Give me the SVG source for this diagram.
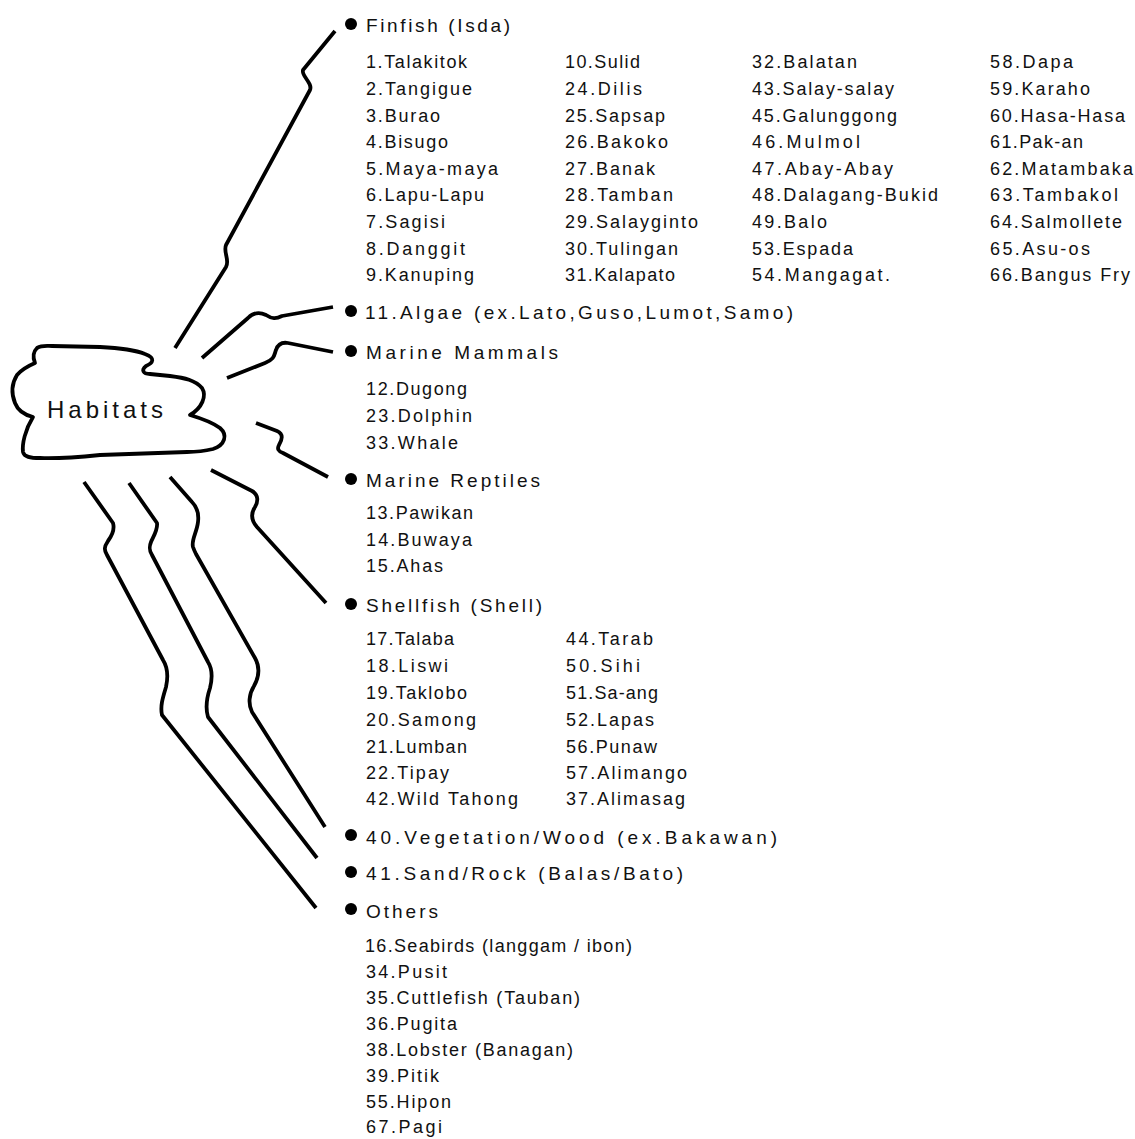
<svg xmlns="http://www.w3.org/2000/svg" width="1135" height="1139" viewBox="0 0 1135 1139">
<style>
.ln{fill:none;stroke:#000;stroke-width:3.8;stroke-linejoin:round;stroke-linecap:butt}
.h{font-family:"Liberation Sans",Arial,sans-serif;font-size:19px;fill:#111}
.i{font-family:"Liberation Sans",Arial,sans-serif;font-size:18px;fill:#111}
.c{font-family:"Liberation Sans",Arial,sans-serif;font-size:24px;fill:#111}
.b{fill:#000}
</style>
<rect width="1135" height="1139" fill="#fff"/>
<g id="habitats">
<path class="ln" d="M 37,348 C 42,345 47,346 52,346 L 100,347 C 120,348 135,350 145,354 C 156,358 153,363 146,366 C 141,370 143,374 150,374 L 170,376 C 185,378 195,380 202,388 C 207,396 202,408 190,415 C 200,418 212,422 220,428 C 228,435 225,445 213,449 C 205,451 195,452 187,452 L 100,455 C 80,457 60,459 40,458 C 30,458 24,457 23,452 C 22,444 25,430 33,417 C 25,415 18,411 15,403 C 11,393 12,383 17,375 C 22,369 28,366 35,363 C 33,358 33,352 37,348 Z"/>
<text class="c" x="47" y="418" textLength="116" lengthAdjust="spacing">Habitats</text>
</g>
<g id="connectors">
<path class="ln" d="M 175,348 L 226,267 C 230,260 223,252 226,245 L 310,90 C 313,83 301,76 303,70 L 335,31"/>
<path class="ln" d="M 202,358 L 248,318 C 254,312 260,312 266,315 C 272,319 276,319 282,316 L 333,307"/>
<path class="ln" d="M 227,378 L 265,363 C 275,359 274,355 276,350 C 278,344 282,342 288,343 L 333,352"/>
<path class="ln" d="M 256,423 L 277,431 C 284,434 282,440 279,445 C 277,449 278,451 283,453 L 328,477"/>
<path class="ln" d="M 211,470 L 252,491 C 259,495 258,502 255,507 C 251,513 251,520 257,527 L 326,603"/>
<path class="ln" d="M 170,477 L 192,502 C 198,508 199,514 198,522 C 197,532 191,540 193,547 C 194,550 195,552 196,554 L 255,658 C 260,667 259,677 254,686 C 249,694 248,704 252,712 L 325,827"/>
<path class="ln" d="M 129,483 L 157,523 C 158,530 153,537 151,542 C 149,547 149,550 152,555 L 208,662 C 213,670 212,680 210,688 C 207,697 205,707 208,717 L 317,858"/>
<path class="ln" d="M 84,482 L 113,523 C 115,530 111,537 108,541 C 104,547 104,550 107,555 L 163,660 C 168,668 168,678 166,687 C 163,697 160,706 162,715 L 316,908"/>
</g>
<g id="finfish">
<circle class="b" cx="351" cy="24" r="6"/>
<text class="h" x="366" y="32" textLength="144" lengthAdjust="spacing">Finfish (Isda)</text>
<text class="i" x="366" y="68" textLength="101" lengthAdjust="spacing">1.Talakitok</text>
<text class="i" x="366" y="95" textLength="106" lengthAdjust="spacing">2.Tangigue</text>
<text class="i" x="366" y="122" textLength="74" lengthAdjust="spacing">3.Burao</text>
<text class="i" x="366" y="148" textLength="82" lengthAdjust="spacing">4.Bisugo</text>
<text class="i" x="366" y="175" textLength="132" lengthAdjust="spacing">5.Maya-maya</text>
<text class="i" x="366" y="201" textLength="118" lengthAdjust="spacing">6.Lapu-Lapu</text>
<text class="i" x="366" y="228" textLength="79" lengthAdjust="spacing">7.Sagisi</text>
<text class="i" x="366" y="255" textLength="99" lengthAdjust="spacing">8.Danggit</text>
<text class="i" x="366" y="281" textLength="108" lengthAdjust="spacing">9.Kanuping</text>
<text class="i" x="565" y="68" textLength="75" lengthAdjust="spacing">10.Sulid</text>
<text class="i" x="565" y="95" textLength="77" lengthAdjust="spacing">24.Dilis</text>
<text class="i" x="565" y="122" textLength="100" lengthAdjust="spacing">25.Sapsap</text>
<text class="i" x="565" y="148" textLength="103" lengthAdjust="spacing">26.Bakoko</text>
<text class="i" x="565" y="175" textLength="90" lengthAdjust="spacing">27.Banak</text>
<text class="i" x="565" y="201" textLength="108" lengthAdjust="spacing">28.Tamban</text>
<text class="i" x="565" y="228" textLength="133" lengthAdjust="spacing">29.Salayginto</text>
<text class="i" x="565" y="255" textLength="113" lengthAdjust="spacing">30.Tulingan</text>
<text class="i" x="565" y="281" textLength="110" lengthAdjust="spacing">31.Kalapato</text>
<text class="i" x="752" y="68" textLength="105" lengthAdjust="spacing">32.Balatan</text>
<text class="i" x="752" y="95" textLength="142" lengthAdjust="spacing">43.Salay-salay</text>
<text class="i" x="752" y="122" textLength="145" lengthAdjust="spacing">45.Galunggong</text>
<text class="i" x="752" y="148" textLength="108" lengthAdjust="spacing">46.Mulmol</text>
<text class="i" x="752" y="175" textLength="141" lengthAdjust="spacing">47.Abay-Abay</text>
<text class="i" x="752" y="201" textLength="186" lengthAdjust="spacing">48.Dalagang-Bukid</text>
<text class="i" x="752" y="228" textLength="75" lengthAdjust="spacing">49.Balo</text>
<text class="i" x="752" y="255" textLength="101" lengthAdjust="spacing">53.Espada</text>
<text class="i" x="752" y="281" textLength="138" lengthAdjust="spacing">54.Mangagat.</text>
<text class="i" x="990" y="68" textLength="83" lengthAdjust="spacing">58.Dapa</text>
<text class="i" x="990" y="95" textLength="100" lengthAdjust="spacing">59.Karaho</text>
<text class="i" x="990" y="122" textLength="135" lengthAdjust="spacing">60.Hasa-Hasa</text>
<text class="i" x="990" y="148" textLength="93" lengthAdjust="spacing">61.Pak-an</text>
<text class="i" x="990" y="175" textLength="143" lengthAdjust="spacing">62.Matambaka</text>
<text class="i" x="990" y="201" textLength="128" lengthAdjust="spacing">63.Tambakol</text>
<text class="i" x="990" y="228" textLength="132" lengthAdjust="spacing">64.Salmollete</text>
<text class="i" x="990" y="255" textLength="100" lengthAdjust="spacing">65.Asu-os</text>
<text class="i" x="990" y="281" textLength="140" lengthAdjust="spacing">66.Bangus Fry</text>
</g>
<g id="algae">
<circle class="b" cx="351" cy="311" r="6"/>
<text class="h" x="365" y="319" textLength="428" lengthAdjust="spacing">11.Algae (ex.Lato,Guso,Lumot,Samo)</text>
</g>
<g id="marine-mammals">
<circle class="b" cx="351" cy="351" r="6"/>
<text class="h" x="366" y="359" textLength="192" lengthAdjust="spacing">Marine Mammals</text>
<text class="i" x="366" y="395" textLength="101" lengthAdjust="spacing">12.Dugong</text>
<text class="i" x="366" y="422" textLength="106" lengthAdjust="spacing">23.Dolphin</text>
<text class="i" x="366" y="449" textLength="92" lengthAdjust="spacing">33.Whale</text>
</g>
<g id="marine-reptiles">
<circle class="b" cx="351" cy="479" r="6"/>
<text class="h" x="366" y="487" textLength="174" lengthAdjust="spacing">Marine Reptiles</text>
<text class="i" x="366" y="519" textLength="107" lengthAdjust="spacing">13.Pawikan</text>
<text class="i" x="366" y="546" textLength="106" lengthAdjust="spacing">14.Buwaya</text>
<text class="i" x="366" y="572" textLength="77" lengthAdjust="spacing">15.Ahas</text>
</g>
<g id="shellfish">
<circle class="b" cx="351" cy="604" r="6"/>
<text class="h" x="366" y="612" textLength="176" lengthAdjust="spacing">Shellfish (Shell)</text>
<text class="i" x="366" y="645" textLength="88" lengthAdjust="spacing">17.Talaba</text>
<text class="i" x="366" y="672" textLength="82" lengthAdjust="spacing">18.Liswi</text>
<text class="i" x="366" y="699" textLength="101" lengthAdjust="spacing">19.Taklobo</text>
<text class="i" x="366" y="726" textLength="110" lengthAdjust="spacing">20.Samong</text>
<text class="i" x="366" y="753" textLength="101" lengthAdjust="spacing">21.Lumban</text>
<text class="i" x="366" y="779" textLength="83" lengthAdjust="spacing">22.Tipay</text>
<text class="i" x="366" y="805" textLength="152" lengthAdjust="spacing">42.Wild Tahong</text>
<text class="i" x="566" y="645" textLength="87" lengthAdjust="spacing">44.Tarab</text>
<text class="i" x="566" y="672" textLength="74" lengthAdjust="spacing">50.Sihi</text>
<text class="i" x="566" y="699" textLength="92" lengthAdjust="spacing">51.Sa-ang</text>
<text class="i" x="566" y="726" textLength="88" lengthAdjust="spacing">52.Lapas</text>
<text class="i" x="566" y="753" textLength="91" lengthAdjust="spacing">56.Punaw</text>
<text class="i" x="566" y="779" textLength="121" lengthAdjust="spacing">57.Alimango</text>
<text class="i" x="566" y="805" textLength="119" lengthAdjust="spacing">37.Alimasag</text>
</g>
<g id="vegetation">
<circle class="b" cx="351" cy="835" r="6"/>
<text class="h" x="366" y="844" textLength="411" lengthAdjust="spacing">40.Vegetation/Wood (ex.Bakawan)</text>
</g>
<g id="sand-rock">
<circle class="b" cx="351" cy="872" r="6"/>
<text class="h" x="366" y="880" textLength="317" lengthAdjust="spacing">41.Sand/Rock (Balas/Bato)</text>
</g>
<g id="others">
<circle class="b" cx="351" cy="909" r="6"/>
<text class="h" x="366" y="918" textLength="72" lengthAdjust="spacing">Others</text>
<text class="i" x="365" y="952" textLength="267" lengthAdjust="spacing">16.Seabirds (langgam / ibon)</text>
<text class="i" x="366" y="978" textLength="81" lengthAdjust="spacing">34.Pusit</text>
<text class="i" x="366" y="1004" textLength="214" lengthAdjust="spacing">35.Cuttlefish (Tauban)</text>
<text class="i" x="366" y="1030" textLength="91" lengthAdjust="spacing">36.Pugita</text>
<text class="i" x="366" y="1056" textLength="207" lengthAdjust="spacing">38.Lobster (Banagan)</text>
<text class="i" x="366" y="1082" textLength="73" lengthAdjust="spacing">39.Pitik</text>
<text class="i" x="366" y="1108" textLength="85" lengthAdjust="spacing">55.Hipon</text>
<text class="i" x="366" y="1133" textLength="76" lengthAdjust="spacing">67.Pagi</text>
</g>
</svg>
